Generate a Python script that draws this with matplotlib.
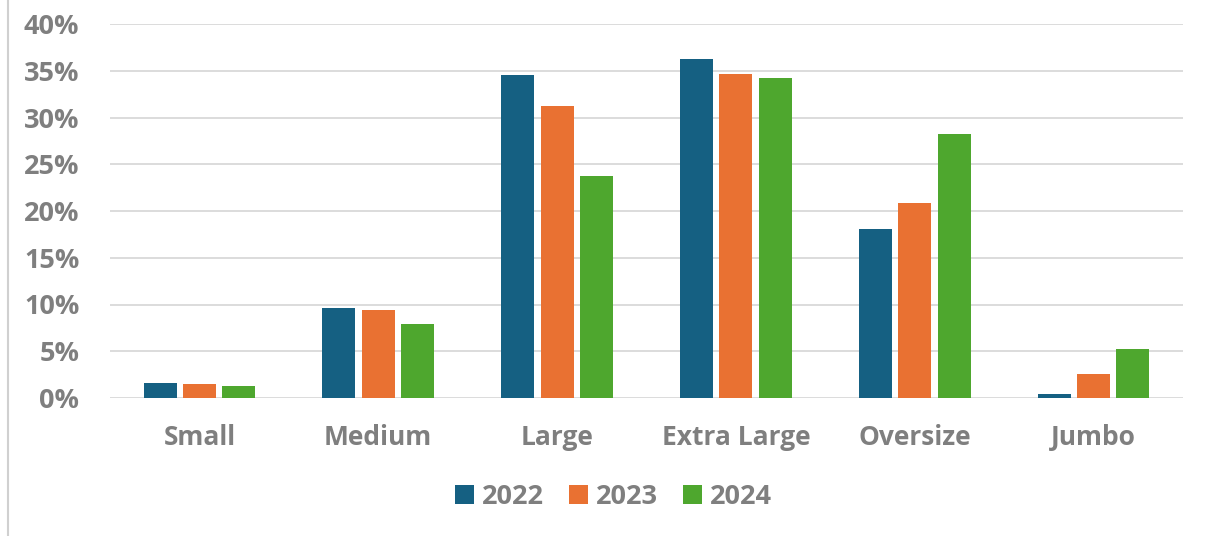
"""Clustered bar chart: share of units by size class, 2022-2024."""

import matplotlib
matplotlib.use("Agg")
import matplotlib.pyplot as plt
from matplotlib.lines import Line2D
from matplotlib.ticker import PercentFormatter
import numpy as np

# --- Data ----------------------------------------------------------------
categories = ["Small", "Medium", "Large", "Extra Large", "Oversize", "Jumbo"]
years = ["2022", "2023", "2024"]
share_2022 = [0.0165, 0.096, 0.345, 0.363, 0.181, 0.004]
share_2023 = [0.015, 0.094, 0.312, 0.347, 0.209, 0.026]
share_2024 = [0.013, 0.079, 0.237, 0.342, 0.282, 0.052]
y_ticks = [0, 0.05, 0.10, 0.15, 0.20, 0.25, 0.30, 0.35, 0.40]

COLORS = ["#156082", "#E97132", "#4EA72E"]
TEXT = "#7F7F7F"
GRID = "#D9D9D9"

plt.rcParams["font.family"] = ["Open Sans", "DejaVu Sans"]
plt.rcParams["font.weight"] = "bold"

fig = plt.figure(figsize=(12.05, 5.36), dpi=100)
ax = fig.add_axes([110 / 1205, 138 / 536, 1073 / 1205, 374 / 536])

x = np.arange(len(categories))
width = 0.185
step = 0.22
series = [share_2022, share_2023, share_2024]
for i, (vals, year) in enumerate(zip(series, years)):
    ax.bar(x + (i - 1) * step, vals, width, color=COLORS[i], label=year, zorder=3)

ax.set_xlim(-0.5, len(categories) - 0.5)
ax.set_ylim(0, 0.40)
ax.set_yticks(y_ticks)
ax.yaxis.set_major_formatter(PercentFormatter(1.0, decimals=0))
ax.set_xticks(x)
ax.set_xticklabels(categories)

ax.grid(axis="y", color=GRID, linewidth=1.3, zorder=0)
ax.tick_params(axis="y", length=0, pad=22, labelsize=19.5, labelcolor=TEXT)
ax.tick_params(axis="x", length=0, pad=19, labelsize=19, labelcolor=TEXT)
for s in ax.spines.values():
    s.set_visible(False)

leg = fig.legend(
    loc="center", bbox_to_anchor=(613.5 / 1205, 1 - 497 / 536),
    ncol=3, frameon=False, fontsize=19.5,
    handlelength=0.69, handleheight=0.71, handletextpad=0.3,
    columnspacing=0.93, borderpad=0,
)
for t in leg.get_texts():
    t.set_color(TEXT)

# thin border on the left edge of the chart area
fig.add_artist(Line2D([8 / 1205, 8 / 1205], [0, 1], color="#D0D0D0",
                      linewidth=1.5, transform=fig.transFigure))

fig.savefig("out.png", dpi=100)
